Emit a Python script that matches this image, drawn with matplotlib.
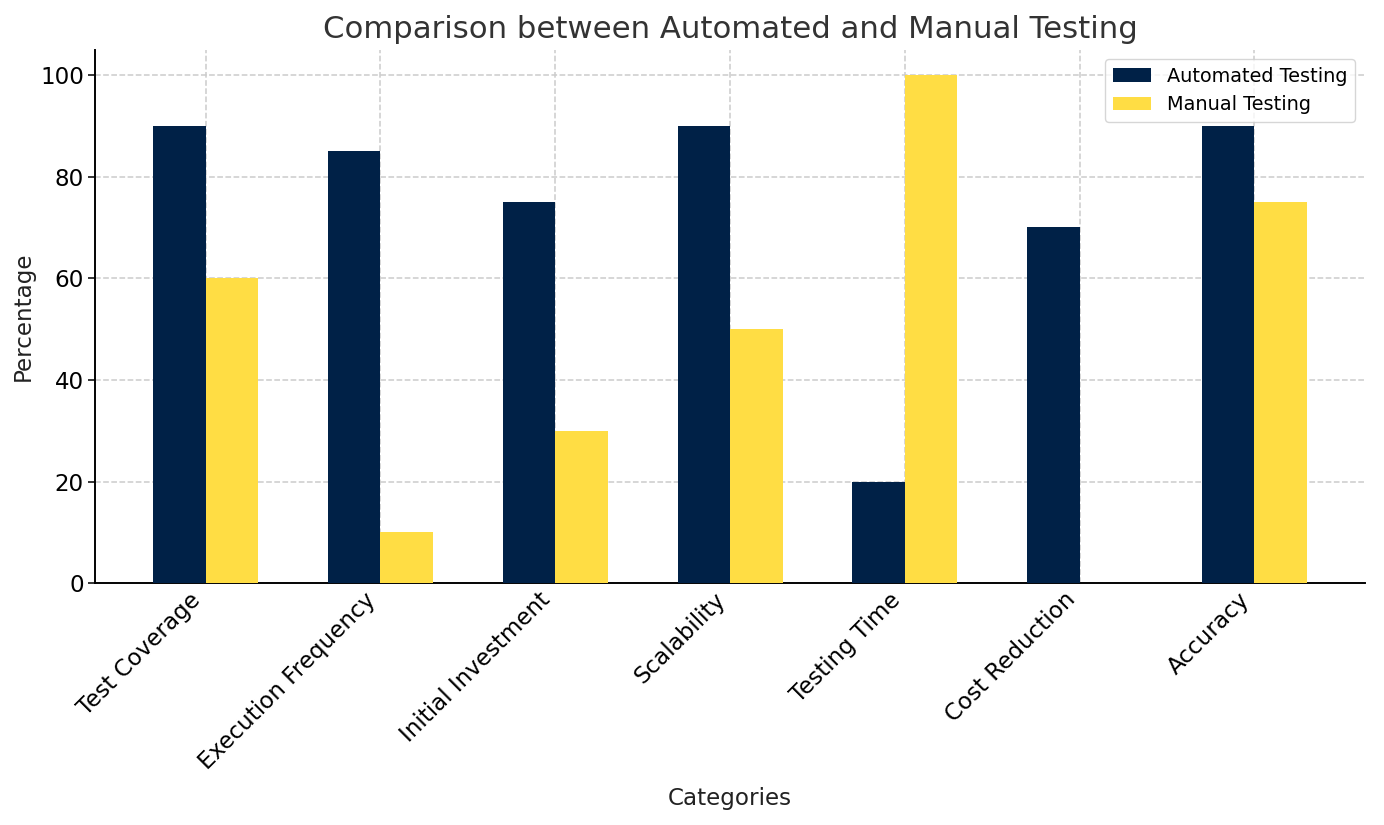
import matplotlib
matplotlib.use("Agg")
import matplotlib.pyplot as plt
import numpy as np

categories = ["Test Coverage", "Execution Frequency", "Initial Investment", "Scalability",
              "Testing Time", "Cost Reduction", "Accuracy"]
automated = [90, 85, 75, 90, 20, 70, 90]
manual = [60, 10, 30, 50, 100, 0, 75]

k = 1.384
fig, ax = plt.subplots(figsize=(13.84, 8.25), dpi=100)
x = np.arange(len(categories))
w = 0.3
ax.bar(x - w/2, automated, w, color="#002147", label="Automated Testing", zorder=3)
ax.bar(x + w/2, manual, w, color="#FFDD44", label="Manual Testing", zorder=3)

ax.set_xticks(x)
ax.set_xticklabels(categories, rotation=45, ha="right", fontsize=12*k)
ax.tick_params(axis="y", labelsize=12*k, length=3.5*k, width=0.8*k)
ax.tick_params(axis="x", length=0)
ax.set_xlabel("Categories", fontsize=12*k, labelpad=7*k, color="#222222")
ax.set_ylabel("Percentage", fontsize=12*k, color="#222222")
ax.set_title("Comparison between Automated and Manual Testing", fontsize=16*k, color="#333333", pad=6*k)
ax.grid(True, linestyle="--", color="#cccccc", linewidth=0.8*k, zorder=0)
for s in ["top", "right"]:
    ax.spines[s].set_visible(False)
ax.spines["left"].set_linewidth(1.0*k)
ax.spines["bottom"].set_linewidth(1.0*k)
ax.legend(loc="upper right", fontsize=10*k)

fig.subplots_adjust(left=0.069, right=0.986, top=0.94, bottom=0.293)
fig.savefig("out.png", dpi=100)
